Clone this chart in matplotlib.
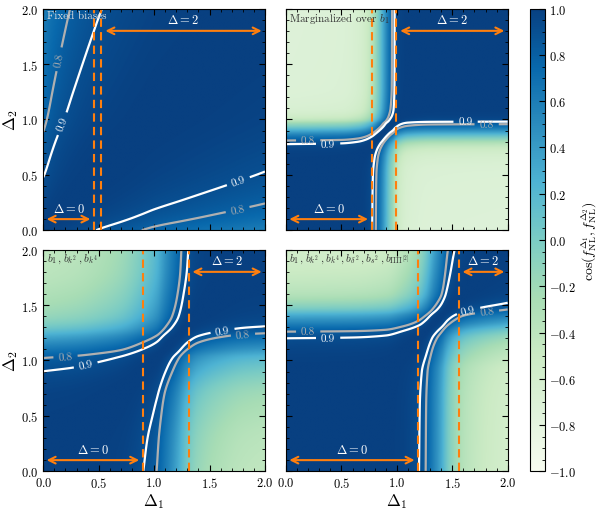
import numpy as np
import matplotlib
matplotlib.use("Agg")
import matplotlib.pyplot as plt

plt.rcParams['font.family'] = ['cmr10', 'DejaVu Serif']
plt.rcParams['mathtext.fontset'] = 'cm'
plt.rcParams['axes.formatter.use_mathtext'] = True
plt.rcParams['axes.unicode_minus'] = True

# ---------------- data ----------------
# angle (deg) of each estimator direction as a function of Delta; cos of the
# difference of two angles gives cos(f_NL^D1, f_NL^D2)
p1_delta = [0, 0.12, 0.235, 0.476, 0.7, 0.89, 1.0, 1.25, 1.5, 1.75, 2.0]
p1_theta = [0, 9.5, 16.1, 25.8, 32.0, 36.9, 39.5, 43.6, 47.2, 50.4, 53.3]

p2_delta = [0, 0.5, 0.65, 0.72, 0.777, 0.81, 0.86, 0.91, 0.94, 0.965, 0.987, 1.03, 1.1, 1.3, 2.0]
p2_theta = [0, 2, 7, 14, 25.8, 36.9, 57, 80, 93, 102.1, 113.2, 124, 131, 135, 136]

p3_delta = [0, 0.3, 0.5, 0.7, 0.902, 1.022, 1.1, 1.2, 1.3, 1.4, 1.6, 1.8, 2.0]
p3_theta = [0, 3, 7, 13, 25.84, 36.87, 51, 69, 88, 99, 108, 113, 115]

p4_delta = [0, 0.6, 0.9, 1.05, 1.20, 1.26, 1.33, 1.40, 1.46, 1.52, 1.6, 1.75, 2.0]
p4_theta = [0, 1, 4, 12, 25.84, 36.87, 55, 72, 89, 100, 110, 118, 126]

panel_titles = ["Fixed biases", r"Marginalized over $b_1$",
                r"$b_1\,,b_{k^2}\,,b_{k^4}$",
                r"$b_1\,,b_{k^2}\,,b_{k^4}\,,b_{\delta^2}\,,b_{s^2}\,,b_{\Pi\Pi^{[2]}}$"]
title_colors = ["#e0e0e0", "#333333", "#333333", "#333333"]
line_lo = [0.46, 0.775, 0.90, 1.195]   # end of "Delta = 0" region
line_hi = [0.525, 0.995, 1.31, 1.557]  # start of "Delta = 2" region

contour_levels = [0.8, 0.9]
label_pos = [
    [(0.11, 1.55), (0.2, 0.95), (1.75, 0.47), (1.75, 0.2)],
    [(0.20, 0.82), (0.38, 0.77), (1.62, 0.99), (1.81, 0.96)],
    [(0.20, 1.04), (0.38, 0.97), (1.61, 1.31), (1.80, 1.25)],
    [(0.20, 1.26), (0.38, 1.20), (1.63, 1.52), (1.81, 1.47)],
]
cbar_ticks = [-1.0, -0.8, -0.6, -0.4, -0.2, 0.0, 0.2, 0.4, 0.6, 0.8, 1.0]


def pchip(xk, yk, x):
    xk = np.asarray(xk, float); yk = np.asarray(yk, float)
    h = np.diff(xk); d = np.diff(yk) / h
    m = np.zeros_like(yk)
    m[0] = d[0]; m[-1] = d[-1]
    for k in range(1, len(xk) - 1):
        if d[k - 1] * d[k] > 0:
            w1 = 2 * h[k] + h[k - 1]; w2 = h[k] + 2 * h[k - 1]
            m[k] = (w1 + w2) / (w1 / d[k - 1] + w2 / d[k])
    idx = np.clip(np.searchsorted(xk, x) - 1, 0, len(xk) - 2)
    t = (x - xk[idx]) / h[idx]
    h00 = 2 * t**3 - 3 * t**2 + 1; h10 = t**3 - 2 * t**2 + t
    h01 = -2 * t**3 + 3 * t**2; h11 = t**3 - t**2
    return h00 * yk[idx] + h10 * h[idx] * m[idx] + h01 * yk[idx + 1] + h11 * h[idx] * m[idx + 1]


panels = [(p1_delta, p1_theta), (p2_delta, p2_theta), (p3_delta, p3_theta), (p4_delta, p4_theta)]

fig = plt.figure(figsize=(6.06, 5.10), dpi=100)
W, H = 606.0, 510.0
boxes = [(43.3, 9.7), (286.0, 9.7), (43.3, 250.7), (286.0, 250.7)]
aw, ah = 221.7, 221.5
orange = "#ff7f0e"

g = np.linspace(0, 2, 401)
X, Y = np.meshgrid(g, g)

for i, (dk, tk) in enumerate(panels):
    x0, y0 = boxes[i]
    ax = fig.add_axes([x0 / W, (H - y0 - ah) / H, aw / W, ah / H])
    th = np.deg2rad(pchip(dk, tk, g))
    Z = np.cos(th[None, :] - th[:, None])
    im = ax.imshow(Z, extent=[0, 2, 0, 2], origin='lower', cmap='GnBu',
                   vmin=-1, vmax=1, interpolation='bilinear', aspect='auto')
    cs8 = ax.contour(X, Y, Z, levels=[contour_levels[0]], colors='#b0b0b0', linewidths=1.6)
    cs9 = ax.contour(X, Y, Z, levels=[contour_levels[1]], colors='white', linewidths=1.6)
    lp = label_pos[i]
    ax.clabel(cs8, fmt='%.1f', fontsize=8, inline=True, manual=[lp[0], lp[3]])
    ax.clabel(cs9, fmt='%.1f', fontsize=8, inline=True, manual=[lp[1], lp[2]])

    ax.axvline(line_lo[i], color=orange, ls=(0, (4, 2.5)), lw=1.5)
    ax.axvline(line_hi[i], color=orange, ls=(0, (4, 2.5)), lw=1.5)
    ax.annotate('', xy=(line_lo[i] - 0.035, 0.1), xytext=(0.03, 0.1),
                arrowprops=dict(arrowstyle='<->', color=orange, lw=1.5,
                                shrinkA=0, shrinkB=0, mutation_scale=12))
    ax.annotate('', xy=(1.97, 1.8), xytext=(line_hi[i] + 0.035, 1.8),
                arrowprops=dict(arrowstyle='<->', color=orange, lw=1.5,
                                shrinkA=0, shrinkB=0, mutation_scale=12))
    ax.text(line_lo[i] / 2, 0.14, r'$\Delta = 0$', color='white', fontsize=9,
            ha='center', va='bottom')
    ax.text((line_hi[i] + 2) / 2, 1.84, r'$\Delta = 2$', color='white', fontsize=9,
            ha='center', va='bottom')
    ax.text(0.03, 1.985, panel_titles[i], color=title_colors[i], fontsize=8,
            ha='left', va='top')

    ax.set_xlim(0, 2); ax.set_ylim(0, 2)
    ax.set_xticks([0, 0.5, 1.0, 1.5, 2.0]); ax.set_yticks([0, 0.5, 1.0, 1.5, 2.0])
    ax.set_xticks(np.arange(0, 2.01, 0.1), minor=True)
    ax.set_yticks(np.arange(0, 2.01, 0.1), minor=True)
    ax.tick_params(which='both', direction='in', top=True, right=True, labelsize=9)
    ax.tick_params(which='major', length=4, width=0.8)
    ax.tick_params(which='minor', length=2, width=0.6)
    for s in ax.spines.values():
        s.set_linewidth(0.8)
    if i in (0, 1):
        ax.set_xticklabels([])
    else:
        ax.set_xlabel(r'$\Delta_1$', fontsize=12, labelpad=1)
    if i in (1, 3):
        ax.set_yticklabels([])
    else:
        ax.set_ylabel(r'$\Delta_2$', fontsize=12, labelpad=1)

cax = fig.add_axes([529.5 / W, (H - 472.3) / H, 15.0 / W, (472.3 - 9.7) / H])
cb = fig.colorbar(im, cax=cax, ticks=cbar_ticks)
cb.ax.tick_params(which='both', direction='in', labelsize=9)
cb.ax.tick_params(which='major', length=4, width=0.8)
cb.ax.set_yticks(np.arange(-1, 1.001, 0.05), minor=True)
cb.ax.tick_params(which='minor', length=2, width=0.6)
cb.outline.set_linewidth(0.8)
cb.set_label(r'$\cos(f_{\rm NL}^{\Delta_1}, f_{\rm NL}^{\Delta_2})$', fontsize=10, labelpad=2)

fig.savefig('out.png', dpi=100)
